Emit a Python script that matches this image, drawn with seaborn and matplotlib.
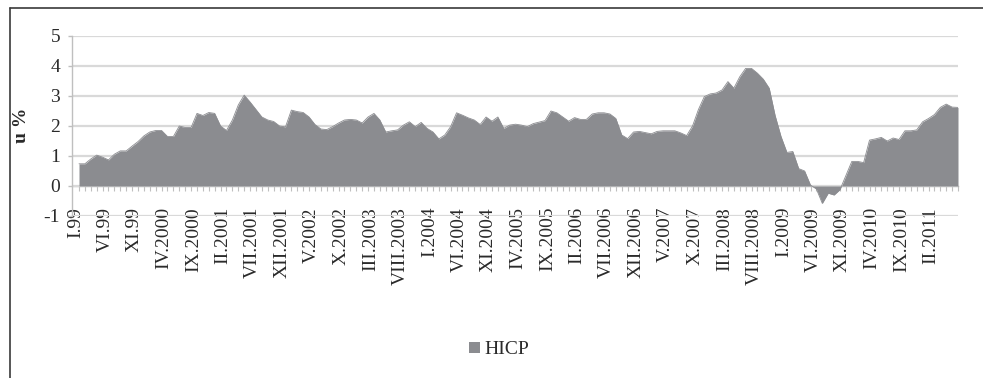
import matplotlib
matplotlib.use("Agg")
import numpy as np
import pandas as pd
import seaborn as sns
import matplotlib.pyplot as plt
from matplotlib.patches import Patch
from matplotlib.lines import Line2D
from matplotlib.transforms import ScaledTranslation

# Monthly HICP inflation (%), January 1999 - June 2011
hicp_1999 = [0.74, 0.74, 0.90, 1.03, 0.96, 0.87, 1.06, 1.17, 1.17, 1.33, 1.48, 1.67]
hicp_2000 = [1.80, 1.85, 1.85, 1.65, 1.65, 2.00, 1.95, 1.95, 2.42, 2.35, 2.45, 2.42]
hicp_2001 = [2.00, 1.85, 2.20, 2.70, 3.03, 2.80, 2.55, 2.30, 2.20, 2.15, 2.00, 1.97]
hicp_2002 = [2.53, 2.48, 2.45, 2.30, 2.05, 1.90, 1.88, 1.98, 2.10, 2.20, 2.22, 2.20]
hicp_2003 = [2.10, 2.30, 2.42, 2.20, 1.80, 1.84, 1.87, 2.03, 2.14, 1.98, 2.12, 1.92]
hicp_2004 = [1.80, 1.57, 1.70, 1.98, 2.44, 2.36, 2.27, 2.20, 2.05, 2.30, 2.16, 2.30]
hicp_2005 = [1.92, 2.03, 2.06, 2.03, 1.98, 2.08, 2.13, 2.18, 2.50, 2.44, 2.30, 2.16]
hicp_2006 = [2.28, 2.22, 2.22, 2.40, 2.44, 2.44, 2.40, 2.25, 1.70, 1.58, 1.80, 1.82]
hicp_2007 = [1.78, 1.74, 1.82, 1.84, 1.84, 1.84, 1.77, 1.68, 2.00, 2.55, 2.98, 3.07]
hicp_2008 = [3.10, 3.20, 3.48, 3.26, 3.64, 3.92, 3.92, 3.76, 3.56, 3.26, 2.35, 1.65]
hicp_2009 = [1.12, 1.15, 0.58, 0.50, 0.03, -0.10, -0.58, -0.24, -0.30, -0.12, 0.35, 0.82]
hicp_2010 = [0.82, 0.78, 1.53, 1.57, 1.62, 1.50, 1.60, 1.55, 1.84, 1.84, 1.87, 2.14]
hicp_2011 = [2.25, 2.38, 2.62, 2.73, 2.63, 2.62]

tick_labels = ["I.99", "VI.99", "XI.99", "IV.2000", "IX.2000", "II.2001",
               "VII.2001", "XII.2001", "V.2002", "X.2002", "III.2003",
               "VIII.2003", "I.2004", "VI.2004", "XI.2004", "IV.2005",
               "IX.2005", "II.2006", "VII.2006", "XII.2006", "V.2007",
               "X.2007", "III.2008", "VIII.2008", "I.2009", "VI.2009",
               "XI.2009", "IV.2010", "IX.2010", "II.2011"]
tick_step = 5
y_ticks = [-1, 0, 1, 2, 3, 4, 5]
series_name = "HICP"
y_title = "u %"

values = (hicp_1999 + hicp_2000 + hicp_2001 + hicp_2002 + hicp_2003 + hicp_2004
          + hicp_2005 + hicp_2006 + hicp_2007 + hicp_2008 + hicp_2009
          + hicp_2010 + hicp_2011)
df = pd.DataFrame({"month": np.arange(len(values)), "value": values})

AREA = "#8b8c90"
GRID = "#d9d9d9"
AXIS = "#bfbfbf"
TEXT = "#2a2a2a"

sns.set_theme(style="white")
plt.rcParams["font.family"] = ["Liberation Serif", "DejaVu Serif"]

W, H = 983, 378
fig = plt.figure(figsize=(W / 100, H / 100), dpi=100)
ax = fig.add_axes([72 / W, 1 - 216 / H, (958 - 72) / W, 180 / H])

sns.lineplot(data=df, x="month", y="value", ax=ax, color=AREA, linewidth=0.6)
ax.fill_between(df["month"], 0, df["value"], color=AREA, linewidth=0, zorder=2)

n = len(values)
ax.set_xlim(-7 / 5.9, n - 1)
ax.set_ylim(y_ticks[0], y_ticks[-1])
ax.set_yticks(y_ticks)
ax.set_yticklabels([str(v) for v in y_ticks])
ax.yaxis.grid(True, color=GRID, linewidth=1.6)
ax.xaxis.grid(False)
ax.set_axisbelow(True)

for side in ("top", "right", "bottom"):
    ax.spines[side].set_visible(False)
ax.spines["left"].set_color(AXIS)
ax.spines["left"].set_linewidth(1.0)

ax.tick_params(axis="y", left=True, length=3, width=1, color=AXIS,
               labelsize=14, labelcolor=TEXT, pad=5.5)

# category labels along the bottom of the plot area
ax.set_xticks(df["month"].to_numpy()[::tick_step])
ax.set_xticklabels(tick_labels, rotation=90)
ax.tick_params(axis="x", length=0, labelsize=14, labelcolor=TEXT, pad=-6.5)
shift = ScaledTranslation(-3.5 / 100, 0, fig.dpi_scale_trans)
for lab in ax.get_xticklabels():
    lab.set_transform(lab.get_transform() + shift)

ax.set_xlabel("")
ax.set_ylabel(y_title, fontsize=14, fontweight="bold", color=TEXT)
ax.yaxis.set_label_coords(-0.047, 0.505)

# horizontal axis crossing at zero, with a tick for every month
zero_frac = (0 - y_ticks[0]) / (y_ticks[-1] - y_ticks[0])
sec = ax.secondary_xaxis(zero_frac)
sec.set_xticks(df["month"].to_numpy())
sec.xaxis.set_ticks_position("bottom")
sec.tick_params(axis="x", length=3.5, width=0.8, color=AXIS,
                labelbottom=False, labeltop=False, direction="out")
for side in sec.spines:
    sec.spines[side].set_color(AXIS)
    sec.spines[side].set_linewidth(1.0)

fig.legend(handles=[Patch(facecolor=AREA, edgecolor="none", label=series_name)],
           loc="center", bbox_to_anchor=(499 / W, 1 - 350 / H),
           frameon=False, fontsize=14, handlelength=0.55, handleheight=0.55,
           handletextpad=0.25, labelcolor=TEXT)

# outer frame on the left and top edges
fig.add_artist(Line2D([10 / W, 10 / W], [0, 1 - 8 / H], transform=fig.transFigure,
                      color="#3a3a3a", linewidth=1.2))
fig.add_artist(Line2D([10 / W, 1], [1 - 8 / H, 1 - 8 / H], transform=fig.transFigure,
                      color="#3a3a3a", linewidth=1.2))

fig.savefig("out.png", dpi=100, facecolor="white")
